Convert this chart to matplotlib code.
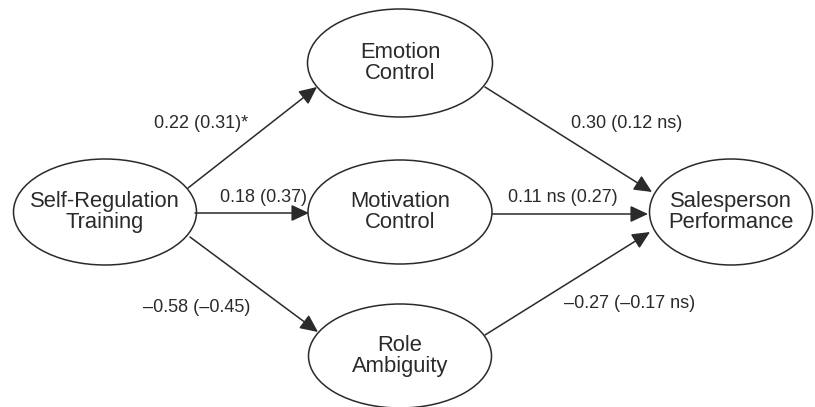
import matplotlib
matplotlib.use("Agg")
import matplotlib.pyplot as plt
from matplotlib.patches import Ellipse, FancyArrowPatch

# ---- data ----
node_ids = ["srt", "emo", "mot", "role", "perf"]
node_labels = ["Self-Regulation\nTraining", "Emotion\nControl", "Motivation\nControl",
               "Role\nAmbiguity", "Salesperson\nPerformance"]
edge_sources = ["srt", "srt", "srt", "emo", "mot", "role"]
edge_targets = ["emo", "mot", "role", "perf", "perf", "perf"]
edge_labels = ["0.22 (0.31)*", "0.18 (0.37)", "–0.58 (–0.45)",
               "0.30 (0.12 ns)", "0.11 ns (0.27)", "–0.27 (–0.17 ns)"]

# ---- layout (pixel coordinates) ----
node_center = {"srt": (105, 212), "emo": (400, 63), "mot": (400, 212),
               "role": (400, 356), "perf": (731, 212)}
node_size = {"srt": (183, 106), "emo": (185, 108), "mot": (184, 104),
             "role": (183, 104), "perf": (163, 106)}
edge_start = [(188, 188), (195, 213), (190, 237), (485, 87), (492, 214), (485, 335)]
edge_end = [(317, 87), (309, 213), (318, 332), (652, 192), (648, 214), (650, 232)]
label_pos = [(201, 124), (264, 198), (197, 308), (627, 124), (563, 198), (630, 303)]

plt.rcParams['font.family'] = ['Liberation Sans', 'DejaVu Sans']
ink = "#2a2a2a"

fig = plt.figure(figsize=(8.15, 4.07), dpi=100)
ax = fig.add_axes([0, 0, 1, 1])
ax.set_xlim(0, 815)
ax.set_ylim(407, 0)
ax.axis("off")

for nid, lab in zip(node_ids, node_labels):
    cx, cy = node_center[nid]
    w, h = node_size[nid]
    ax.add_patch(Ellipse((cx, cy), w, h, facecolor="white", edgecolor=ink, lw=1.1, zorder=2))
    ax.text(cx, cy, lab, ha="center", va="center", fontsize=15.8, color=ink,
            linespacing=1.05, zorder=3)

for s, e, lab, lp in zip(edge_start, edge_end, edge_labels, label_pos):
    arr = FancyArrowPatch(s, e, arrowstyle="-|>,head_length=0.6,head_width=0.28",
                          mutation_scale=18, color=ink, lw=1.1, shrinkA=0, shrinkB=0,
                          zorder=4)
    ax.add_patch(arr)
    ax.text(lp[0], lp[1], lab, ha="center", va="center", fontsize=13, color=ink, zorder=5)

fig.savefig("out.png", dpi=100)
